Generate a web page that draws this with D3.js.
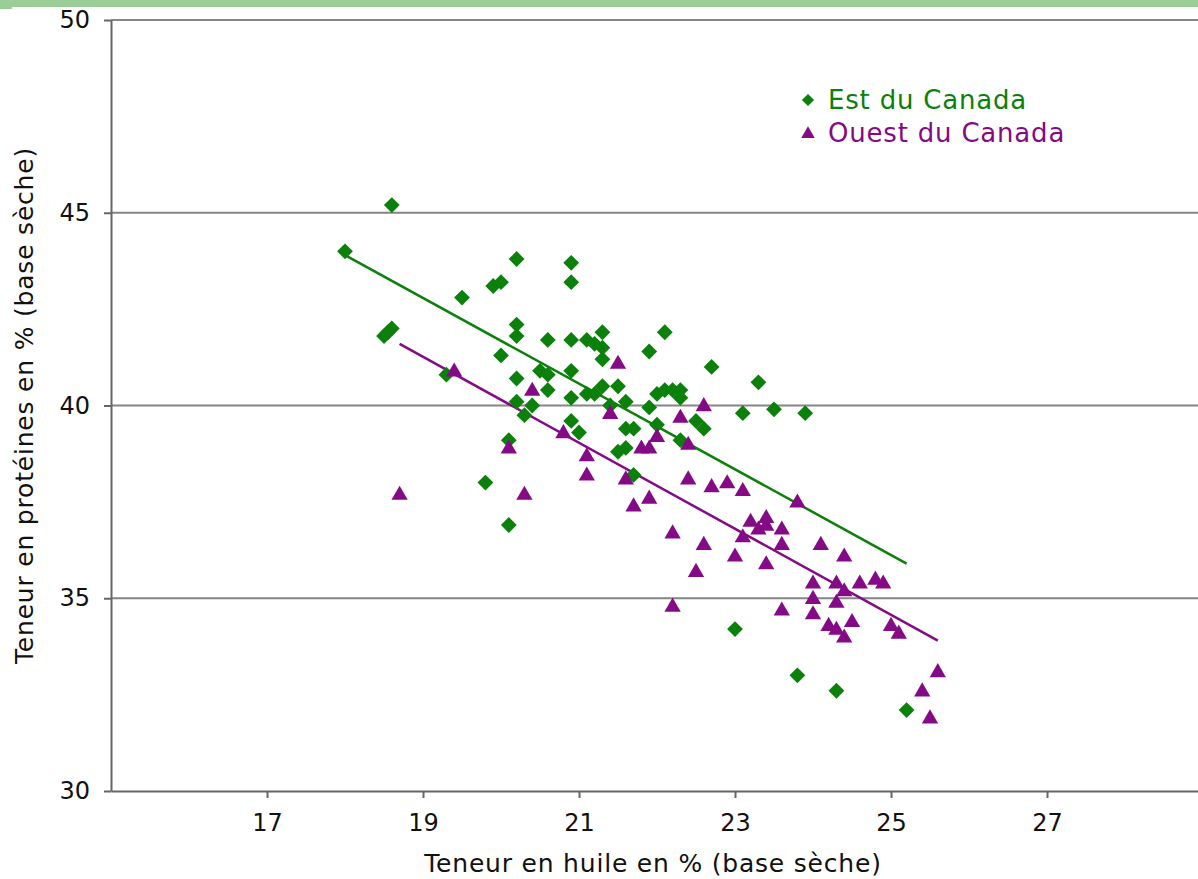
<!DOCTYPE html>
<html>
<head>
<meta charset="utf-8">
<script src="https://cdn.jsdelivr.net/npm/d3@7"></script>
<style>
  html, body { margin: 0; padding: 0; background: #fff; }
  svg { display: block; }
</style>
</head>
<body>
<svg id="chart" width="1198" height="879"></svg>
<script>
// Est du Canada : [huile %, protéines %]
const eastPoints = [
  [18.6, 45.2], [18.0, 44.0], [18.5, 41.8], [18.55, 41.9], [18.6, 42.0],
  [19.3, 40.8], [19.5, 42.8], [19.9, 43.1], [20.0, 43.2], [20.2, 43.8],
  [20.9, 43.7], [20.9, 43.2], [20.0, 41.3], [20.2, 42.1], [20.2, 41.8],
  [20.6, 41.7], [20.9, 41.7], [20.2, 40.7], [20.2, 40.1], [20.3, 39.75],
  [20.4, 40.0], [20.5, 40.9], [20.6, 40.8], [20.6, 40.4], [20.9, 40.9],
  [20.9, 40.2], [20.9, 39.6], [21.0, 39.3], [20.1, 39.1], [19.8, 38.0],
  [20.1, 36.9], [21.1, 41.7], [21.2, 41.6], [21.3, 41.9], [21.3, 41.5],
  [21.3, 41.2], [21.1, 40.3], [21.2, 40.3], [21.3, 40.5], [21.5, 40.5],
  [21.4, 40.0], [21.6, 40.1], [21.6, 39.4], [21.7, 39.4], [21.6, 38.9],
  [21.5, 38.8], [21.9, 39.95], [21.9, 41.4], [22.1, 41.9], [22.0, 40.3],
  [22.1, 40.4], [22.2, 40.4], [22.3, 40.4], [22.3, 40.2], [22.0, 39.5],
  [22.3, 39.1], [22.5, 39.6], [22.6, 39.4], [22.7, 41.0], [23.1, 39.8],
  [23.3, 40.6], [23.5, 39.9], [23.9, 39.8], [23.0, 34.2], [23.8, 33.0],
  [24.3, 32.6], [25.2, 32.1], [21.7, 38.2]
];

// Ouest du Canada : [huile %, protéines %]
const westPoints = [
  [18.7, 37.7], [19.4, 40.9], [20.1, 38.9], [20.3, 37.7], [20.4, 40.4],
  [20.8, 39.3], [21.1, 38.7], [21.1, 38.2], [21.5, 41.1], [21.4, 39.8],
  [21.6, 38.1], [21.7, 37.4], [21.8, 38.9], [21.9, 38.9], [21.9, 37.6],
  [22.0, 39.2], [22.2, 36.7], [22.2, 34.8], [22.3, 39.7], [22.4, 39.0],
  [22.4, 38.1], [22.5, 35.7], [22.6, 36.4], [22.6, 40.0], [22.7, 37.9],
  [22.9, 38.0], [23.0, 36.1], [23.1, 37.8], [23.1, 36.6], [23.2, 37.0],
  [23.3, 36.8], [23.4, 36.9], [23.4, 37.1], [23.4, 35.9], [23.6, 36.8],
  [23.6, 36.4], [23.6, 34.7], [23.8, 37.5], [24.0, 35.4], [24.0, 35.0],
  [24.0, 34.6], [24.1, 36.4], [24.2, 34.3], [24.3, 35.4], [24.3, 34.9],
  [24.3, 34.2], [24.4, 36.1], [24.4, 35.2], [24.4, 34.0], [24.5, 34.4],
  [24.6, 35.4], [24.8, 35.5], [24.9, 35.4], [25.0, 34.3], [25.1, 34.1],
  [25.4, 32.6], [25.5, 31.9], [25.6, 33.1]
];

// droites de tendance (extrémités)
const eastTrend = [[18.0, 43.9], [25.2, 35.9]];
const westTrend = [[18.7, 41.6], [25.6, 33.9]];

const xTicks = [17, 19, 21, 23, 25, 27];
const yTicks = [30, 35, 40, 45, 50];

const seriesNames = ['Est du Canada', 'Ouest du Canada'];
const seriesColors = ['#0b800b', '#850a85'];

const fontFamily = 'Verdana, "DejaVu Sans", sans-serif';

const svg = d3.select('#chart');

// bandeau vert du haut
svg.append('rect')
  .attr('x', 0).attr('y', 0)
  .attr('width', 1198).attr('height', 7)
  .attr('fill', '#9bcd96');
svg.append('rect')
  .attr('x', 0).attr('y', 0)
  .attr('width', 12).attr('height', 9)
  .attr('fill', '#9bcd96');

const xScale = d3.scaleLinear().domain([15, 29]).range([111, 1203]);
const yScale = d3.scaleLinear().domain([30, 50]).range([791, 20]);

// lignes de grille
svg.append('g')
  .attr('id', 'grid')
  .selectAll('line')
  .data(yTicks.filter(d => d > 30))
  .join('line')
  .attr('x1', xScale(15))
  .attr('x2', xScale(29))
  .attr('y1', d => yScale(d))
  .attr('y2', d => yScale(d))
  .attr('stroke', '#858585')
  .attr('stroke-width', 2);

// axes
const xAxis = svg.append('g')
  .attr('id', 'x-axis')
  .attr('transform', `translate(0,${yScale(30)})`)
  .call(d3.axisBottom(xScale).tickValues(xTicks).tickSize(7).tickSizeOuter(0).tickPadding(16));

const yAxis = svg.append('g')
  .attr('id', 'y-axis')
  .attr('transform', `translate(${xScale(15)},0)`)
  .call(d3.axisLeft(yScale).tickValues(yTicks).tickSize(7).tickSizeOuter(0).tickPadding(14));

[xAxis, yAxis].forEach(axis => {
  axis.select('.domain').attr('stroke', '#666').attr('stroke-width', 2);
  axis.selectAll('.tick line').attr('stroke', '#666').attr('stroke-width', 2);
  axis.selectAll('.tick text')
    .attr('fill', '#111')
    .attr('font-family', fontFamily)
    .attr('font-size', '24px');
});

// titres des axes
svg.append('text')
  .attr('x', 653)
  .attr('y', 872)
  .attr('text-anchor', 'middle')
  .attr('font-family', fontFamily)
  .attr('font-size', '25px')
  .attr('letter-spacing', '0.8px')
  .attr('fill', '#111')
  .text('Teneur en huile en % (base sèche)');

svg.append('text')
  .attr('transform', `translate(33,${yScale(40)}) rotate(-90)`)
  .attr('text-anchor', 'middle')
  .attr('font-family', fontFamily)
  .attr('font-size', '25px')
  .attr('letter-spacing', '0.8px')
  .attr('fill', '#111')
  .text('Teneur en protéines en % (base sèche)');

const diamond = d3.symbol().type(d3.symbolSquare).size(125)();
const triangle = d3.symbol().type(d3.symbolTriangle).size(115)();

const line = d3.line()
  .x(d => xScale(d[0]))
  .y(d => yScale(d[1]));

// droites de tendance
svg.append('g')
  .attr('id', 'trends')
  .selectAll('path')
  .data([eastTrend, westTrend])
  .join('path')
  .attr('d', d => line(d))
  .attr('fill', 'none')
  .attr('stroke', (d, i) => seriesColors[i])
  .attr('stroke-width', 2.5);

// points Est
svg.append('g')
  .attr('id', 'east')
  .selectAll('path')
  .data(eastPoints)
  .join('path')
  .attr('d', diamond)
  .attr('transform', d => `translate(${xScale(d[0])},${yScale(d[1])}) rotate(45)`)
  .attr('fill', seriesColors[0]);

// points Ouest
svg.append('g')
  .attr('id', 'west')
  .selectAll('path')
  .data(westPoints)
  .join('path')
  .attr('d', triangle)
  .attr('transform', d => `translate(${xScale(d[0])},${yScale(d[1]) + 1})`)
  .attr('fill', seriesColors[1]);

// légende
const legend = svg.append('g')
  .attr('id', 'legend')
  .attr('transform', 'translate(808,100)');

const legendItems = legend.selectAll('g')
  .data(seriesNames)
  .join('g')
  .attr('transform', (d, i) => `translate(0,${i * 33})`);

legendItems.append('path')
  .attr('d', (d, i) => i === 0
    ? d3.symbol().type(d3.symbolSquare).size(75)()
    : d3.symbol().type(d3.symbolTriangle).size(80)())
  .attr('transform', (d, i) => i === 0 ? 'rotate(45)' : 'translate(0,1)')
  .attr('fill', (d, i) => seriesColors[i]);

legendItems.append('text')
  .attr('x', 20)
  .attr('y', 9)
  .attr('font-family', fontFamily)
  .attr('font-size', '26px')
  .attr('letter-spacing', '0.8px')
  .attr('fill', (d, i) => seriesColors[i])
  .text(d => d);
</script>
</body>
</html>
